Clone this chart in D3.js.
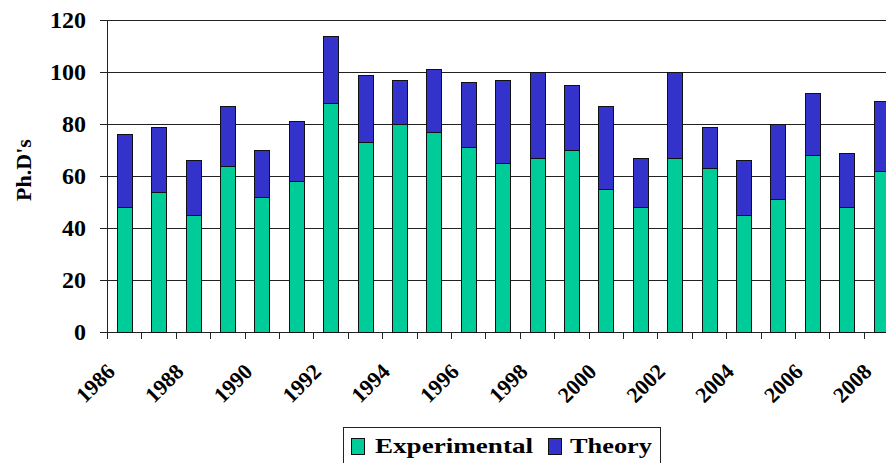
<!DOCTYPE html>
<html>
<head>
<meta charset="utf-8">
<script src="https://cdn.jsdelivr.net/npm/d3@7"></script>
<style>
  body { margin: 0; background: #fff; overflow: hidden; }
  text { font-family: "Liberation Serif", "Times New Roman", serif; font-weight: bold; fill: #000; }
</style>
</head>
<body>
<svg id="chart" width="886" height="463"></svg>
<script>
// data
const years = d3.range(1986, 2009).map(String);
const experimental = [48, 54, 45, 64, 52, 58, 88, 73, 80, 77, 71, 65, 67, 70, 55, 48, 67, 63, 45, 51, 68, 48, 62];
const theory =       [28, 25, 21, 23, 18, 23, 26, 26, 17, 24, 25, 32, 33, 25, 32, 19, 33, 16, 21, 29, 24, 21, 27];
const yTicks = [0, 20, 40, 60, 80, 100, 120];
const seriesNames = ['Experimental', 'Theory'];
const colors = ['#00cc99', '#3333cc'];

const svg = d3.select('#chart');
const plotLeft = 107, plotTop = 20, plotBottom = 332;
const step = 34.4;

const x = d3.scaleBand()
  .domain(years)
  .range([plotLeft, plotLeft + years.length * step])
  .paddingInner(0.564)
  .paddingOuter(0.282);

const y = d3.scaleLinear().domain([0, 120]).range([plotBottom, plotTop]);

const rows = years.map((yr, i) => ({ year: yr, Experimental: experimental[i], Theory: theory[i] }));
const stacked = d3.stack().keys(seriesNames)(rows);

// gridlines
svg.append('g')
  .selectAll('line')
  .data(yTicks)
  .join('line')
  .attr('x1', plotLeft - 7)
  .attr('x2', 900)
  .attr('y1', d => Math.round(y(d)) + 0.5)
  .attr('y2', d => Math.round(y(d)) + 0.5)
  .attr('stroke', '#222')
  .attr('stroke-width', 1);

// y tick labels
svg.append('g')
  .selectAll('text')
  .data(yTicks)
  .join('text')
  .attr('x', 86)
  .attr('y', d => y(d))
  .attr('dy', '0.35em')
  .attr('text-anchor', 'end')
  .style('font-size', '24px')
  .text(d => d);

// y axis line
svg.append('line')
  .attr('x1', plotLeft + 0.5).attr('x2', plotLeft + 0.5)
  .attr('y1', y(120)).attr('y2', plotBottom + 1)
  .attr('stroke', '#222');

// x ticks at band boundaries
const gap = (x.step() - x.bandwidth()) / 2;
svg.append('g')
  .selectAll('line')
  .data(years)
  .join('line')
  .attr('x1', d => Math.round(x(d) - gap) + 0.5)
  .attr('x2', d => Math.round(x(d) - gap) + 0.5)
  .attr('y1', plotBottom)
  .attr('y2', plotBottom + 7)
  .attr('stroke', '#222');

// bars
svg.append('g')
  .selectAll('g')
  .data(stacked)
  .join('g')
  .attr('fill', (d, i) => colors[i])
  .selectAll('rect')
  .data(d => d)
  .join('rect')
  .attr('x', d => Math.round(x(d.data.year)) + 0.5)
  .attr('y', d => Math.round(y(d[1])) + 0.5)
  .attr('width', Math.round(x.bandwidth()))
  .attr('height', d => Math.round(y(d[0])) - Math.round(y(d[1])))
  .attr('stroke', '#111')
  .attr('stroke-width', 1);

// year labels, every other year
svg.append('g')
  .selectAll('text')
  .data(years.filter((d, i) => i % 2 === 0))
  .join('text')
  .attr('text-anchor', 'end')
  .attr('transform', d => `translate(${x(d) + x.bandwidth() / 2 - 8},373) rotate(-45)`)
  .style('font-size', '22px')
  .text(d => d);

// y axis title
svg.append('text')
  .attr('transform', 'translate(31,170) rotate(-90)')
  .attr('text-anchor', 'middle')
  .style('font-size', '22px')
  .text("Ph.D's");

// legend
const legend = svg.append('g');
legend.append('rect')
  .attr('x', 343.5).attr('y', 427.5)
  .attr('width', 317).attr('height', 50)
  .attr('fill', '#fff').attr('stroke', '#222');

const legendItems = [
  { name: seriesNames[0], color: colors[0], sx: 351, tx: 375, len: 158 },
  { name: seriesNames[1], color: colors[1], sx: 548, tx: 570, len: 82 }
];
legendItems.forEach(it => {
  legend.append('rect')
    .attr('x', it.sx + 0.5).attr('y', 438.5)
    .attr('width', 13).attr('height', 16)
    .attr('fill', it.color).attr('stroke', '#111');
  legend.append('text')
    .attr('x', it.tx).attr('y', 453)
    .attr('textLength', it.len)
    .attr('lengthAdjust', 'spacingAndGlyphs')
    .style('font-size', '22px')
    .text(it.name);
});
</script>
</body>
</html>
